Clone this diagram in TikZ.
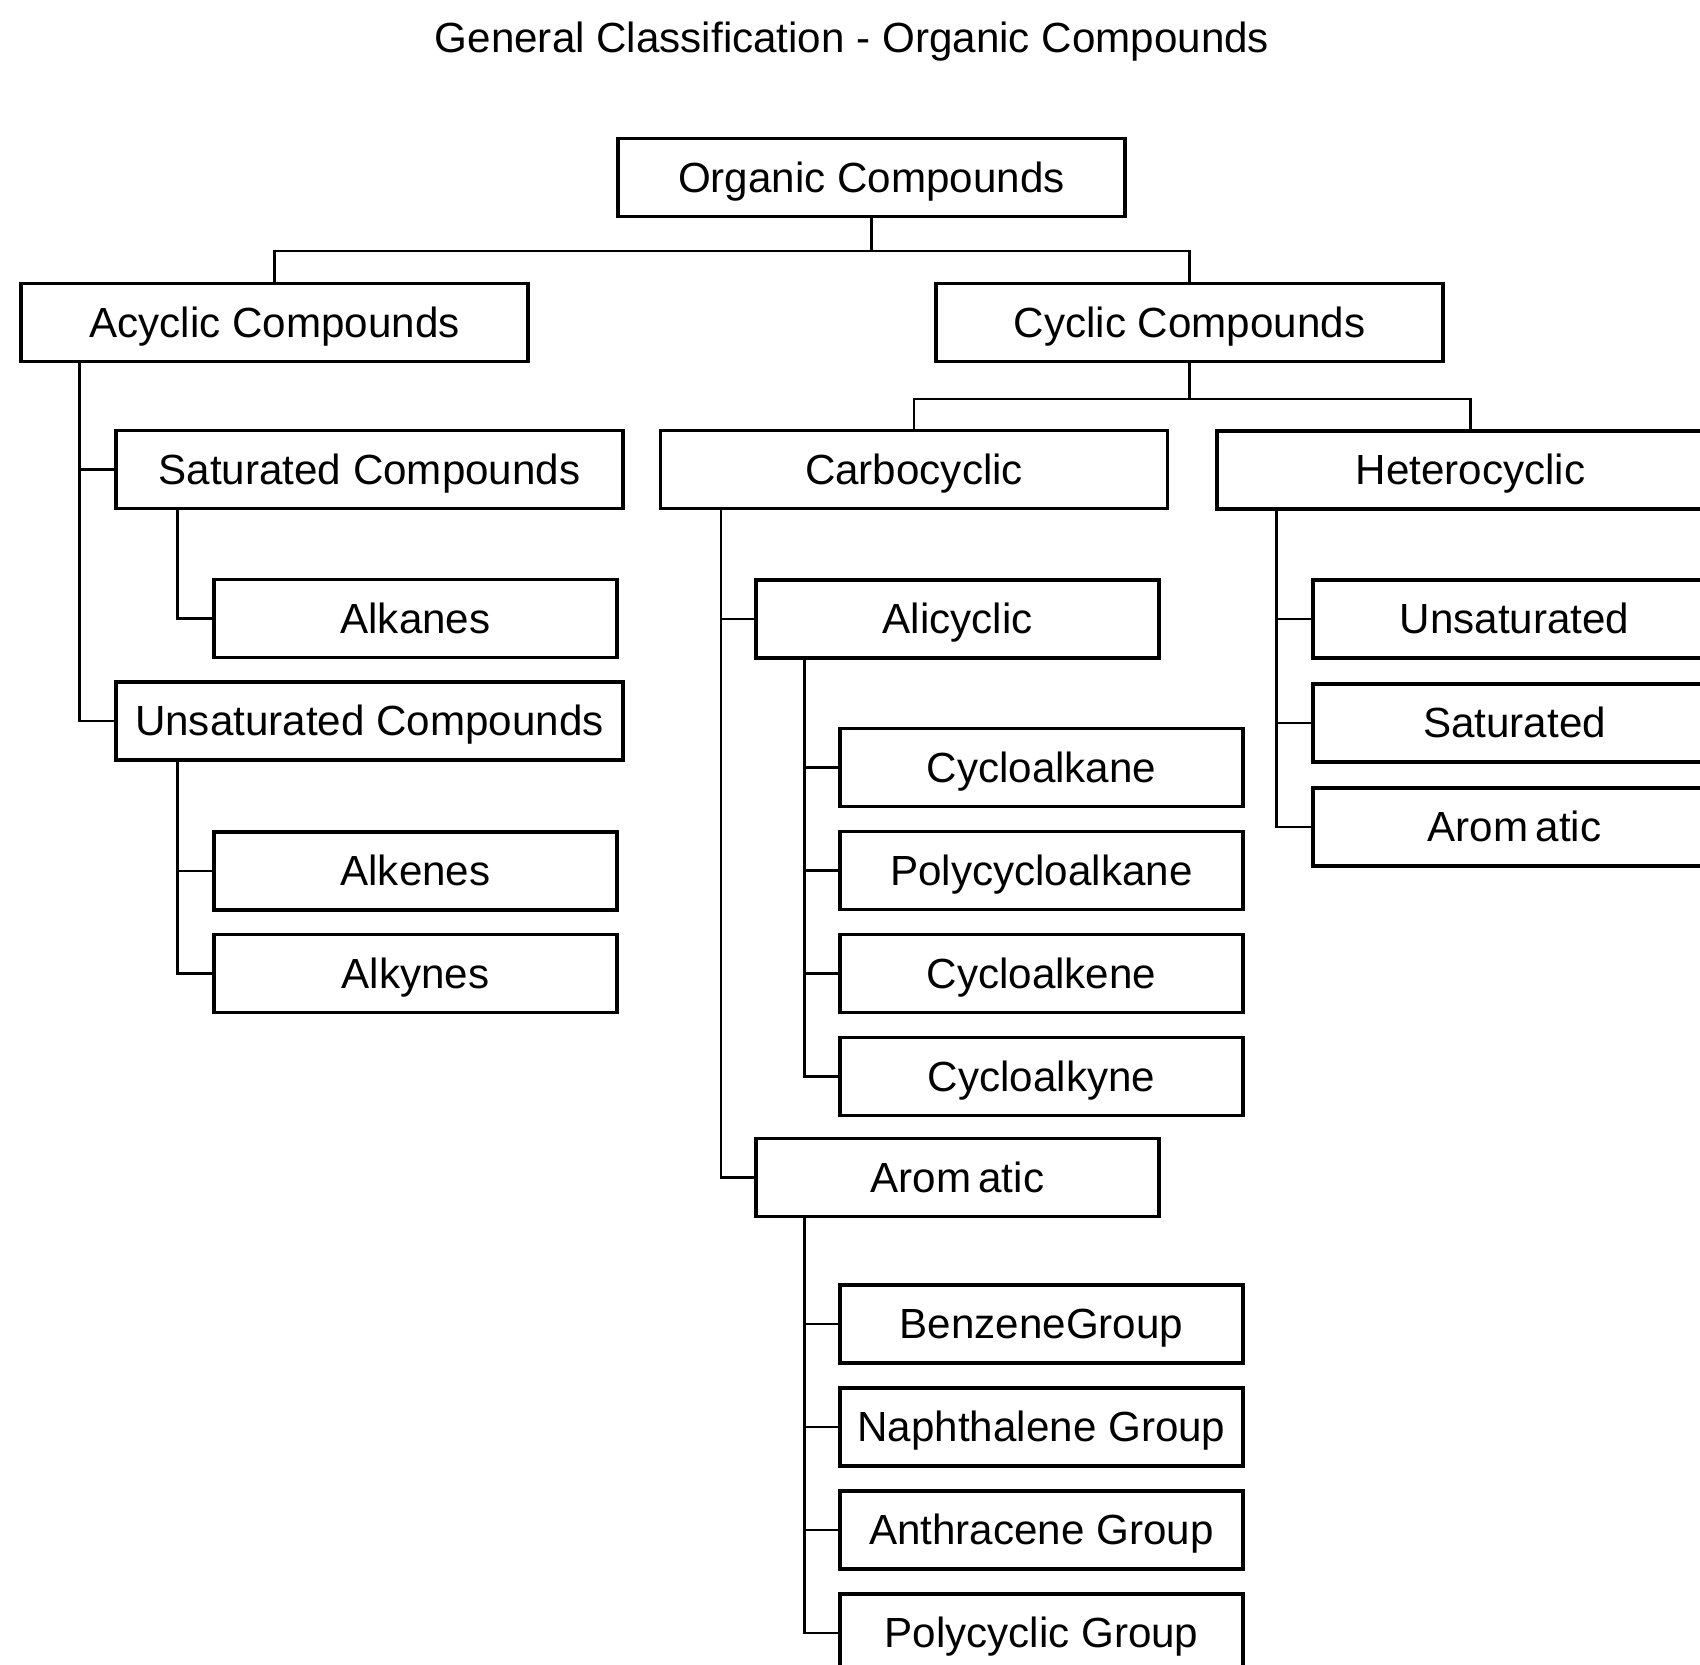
\documentclass[tikz,border=0pt]{standalone}
\usepackage{fontspec}
\setmainfont{Liberation Sans}
\usetikzlibrary{calc}

\tikzset{
  box/.style={draw, line width=1.9pt, minimum width=10.14cm, minimum height=1.56cm,
    inner sep=0pt, text height=18pt, text depth=1pt, font=\fontsize{24}{28}\selectfont},
  leaf/.style={box, minimum width=8.06cm},
  link/.style={line width=1.5pt}
}

\begin{document}
\begin{tikzpicture}[x=0.02cm,y=-0.02cm]
\useasboundingbox (0,0) rectangle (1700,1664);
\clip (0,0) rectangle (1700,1664);

\node[anchor=base, font=\fontsize{24}{28}\selectfont] (title) at (852,52) {General Classification - Organic Compounds};

% top levels
\node[box] (org) at (871.5,177.5) {Organic Compounds};
\node[box] (acyc) at (274.5,322.5) {Acyclic Compounds};
\node[box] (cyc) at (1189.5,322.5) {Cyclic Compounds};

\coordinate (j1) at ($(org.south)+(0,33)$);
\draw[link] (org.south) -- (j1);
\draw[link] (acyc.north) |- (j1) -| (cyc.north);

% acyclic side
\node[box] (sat) at (369.5,469.5) {Saturated Compounds};
\node[box] (unsat) at (369.5,721) {Unsaturated Compounds};
\node[leaf] (alkanes) at (415.5,618.5) {Alkanes};
\node[leaf] (alkenes) at (415.5,871) {Alkenes};
\node[leaf] (alkynes) at (415.5,973.5) {Alkynes};

\foreach \kid in {sat,unsat}
  \draw[link] ($(acyc.south west)+(60,0)$) |- (\kid.west);
\draw[link] ($(sat.south west)+(63,0)$) |- (alkanes.west);
\foreach \kid in {alkenes,alkynes}
  \draw[link] ($(unsat.south west)+(63,0)$) |- (\kid.west);

% cyclic side
\node[box] (carbo) at (914,469.5) {Carbocyclic};
\node[box] (hetero) at (1470.5,470) {Heterocyclic};

\coordinate (j2) at ($(cyc.south)+(0,36)$);
\draw[link] (cyc.south) -- (j2);
\draw[link] (carbo.north) |- (j2) -| (hetero.north);

\node[leaf] (alicyc) at (957.5,619) {Alicyclic};
\node[leaf] (arom) at (957.5,1177.5) {Arom\,atic};
\foreach \kid in {alicyc,arom}
  \draw[link] ($(carbo.south west)+(62,0)$) |- (\kid.west);

\foreach \name/\txt [count=\i] in {cak/Cycloalkane, pcak/Polycycloalkane, cae/Cycloalkene, cay/Cycloalkyne}
{
  \node[leaf] (\name) at (1041.5,{664.5+103*\i}) {\txt};
  \draw[link] ($(alicyc.south west)+(50,0)$) |- (\name.west);
}

\foreach \name/\txt [count=\i] in {benz/BenzeneGroup, naph/Naphthalene Group, anth/Anthracene Group, pcyc/Polycyclic Group}
{
  \node[leaf] (\name) at (1041.5,{1221+103*\i}) {\txt};
  \draw[link] ($(arom.south west)+(50,0)$) |- (\name.west);
}

\foreach \name/\txt [count=\i] in {hunsat/Unsaturated, hsat/Saturated, harom/Arom\,atic}
{
  \node[leaf] (\name) at (1514.5,{515+104*\i}) {\txt};
  \draw[link] ($(hetero.south west)+(61,0)$) |- (\name.west);
}
\end{tikzpicture}
\end{document}
